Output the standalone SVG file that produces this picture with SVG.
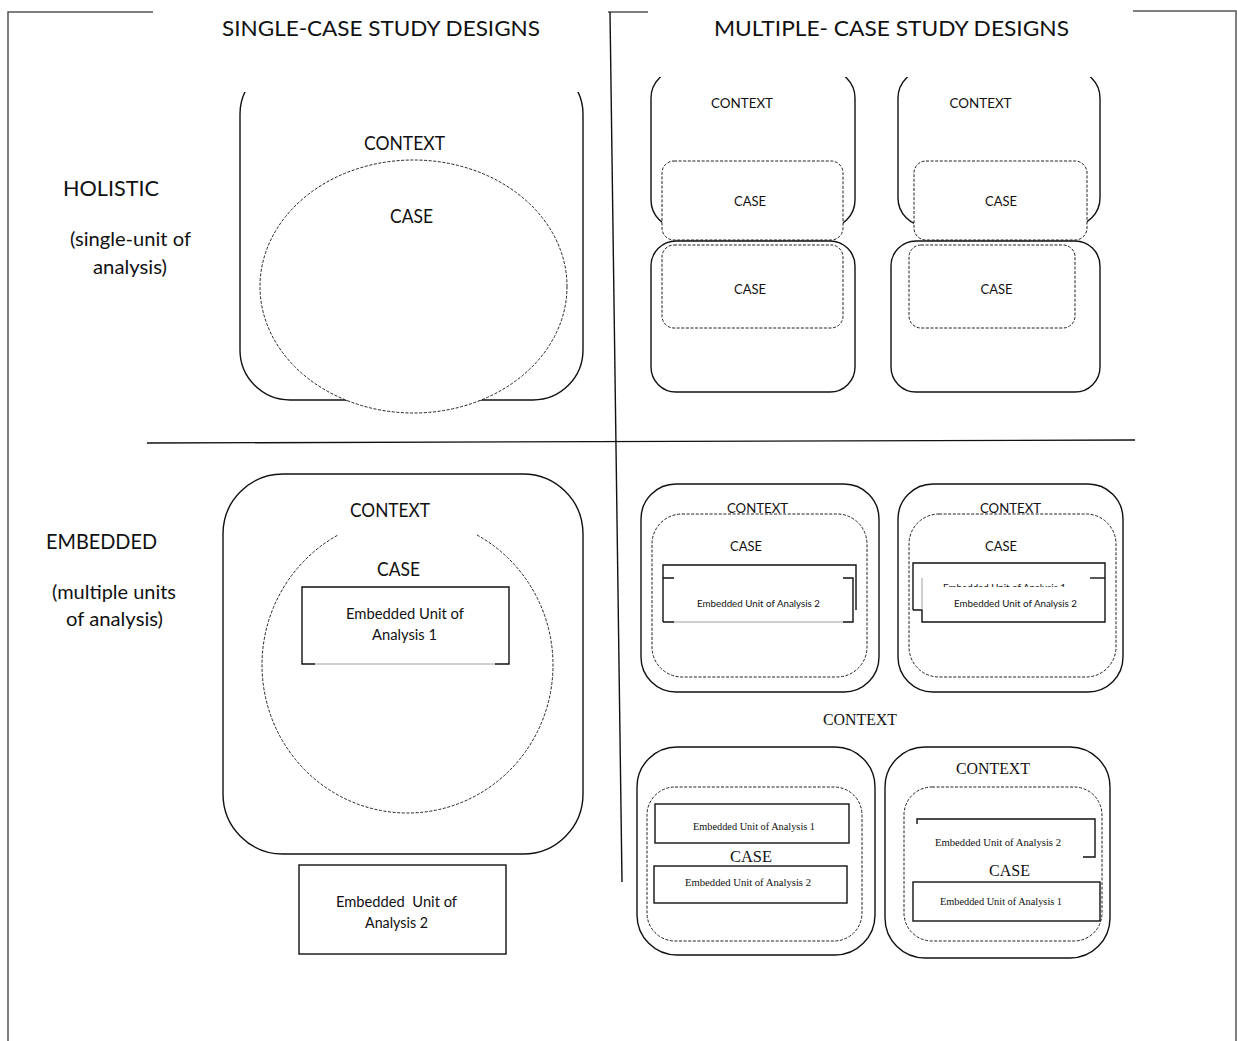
<svg xmlns="http://www.w3.org/2000/svg" width="1237" height="1041" viewBox="0 0 1237 1041">
<defs>
<style>
.frame{fill:none;stroke:#555;stroke-width:1.5}
.ln{fill:none;stroke:#111;stroke-width:1.4}
.box{fill:#fff;stroke:#111;stroke-width:1.4}
.dsh{fill:#fff;stroke:#222;stroke-width:1;stroke-dasharray:3 1.6}
.dshn{fill:none;stroke:#222;stroke-width:1;stroke-dasharray:3 1.6}
.thin{fill:none;stroke:#888;stroke-width:0.8}
text{fill:#111}
.c{font-family:Lato,"Open Sans","Liberation Sans",sans-serif;text-anchor:middle}
.s{font-family:"Liberation Serif","DejaVu Serif",serif;text-anchor:middle}
</style>
<clipPath id="clipTL"><rect x="0" y="92" width="1237" height="949"/></clipPath>
<clipPath id="clipTR"><rect x="0" y="77" width="1237" height="964"/></clipPath>
<clipPath id="clipHidden"><rect x="900" y="570" width="200" height="17"/></clipPath>
</defs>
<rect width="1237" height="1041" fill="#fff"/>

<g id="frame">
<path class="frame" d="M153,12 H8 V1041"/>
<path class="frame" d="M1133,11 H1236 V1041"/>
<path class="frame" d="M608,12 H648"/>
</g>

<g id="dividers">
<line class="ln" x1="610" y1="12" x2="622" y2="882"/>
<line class="ln" x1="147" y1="443" x2="1135" y2="440"/>
</g>

<g id="headers">
<text class="c" x="381" y="36" font-size="22" textLength="318" lengthAdjust="spacingAndGlyphs">SINGLE-CASE STUDY DESIGNS</text>
<text class="c" x="891.5" y="36" font-size="22" textLength="355" lengthAdjust="spacingAndGlyphs">MULTIPLE- CASE STUDY DESIGNS</text>
</g>

<g id="row-labels">
<text class="c" x="111" y="196" font-size="21" textLength="96" lengthAdjust="spacingAndGlyphs">HOLISTIC</text>
<text class="c" x="130.5" y="246" font-size="19" textLength="121" lengthAdjust="spacingAndGlyphs">(single-unit of</text>
<text class="c" x="130" y="274" font-size="19" textLength="74" lengthAdjust="spacingAndGlyphs">analysis)</text>
<text class="c" x="101.5" y="549" font-size="21" textLength="111" lengthAdjust="spacingAndGlyphs">EMBEDDED</text>
<text class="c" x="114" y="599" font-size="19" textLength="124" lengthAdjust="spacingAndGlyphs">(multiple units</text>
<text class="c" x="114.5" y="626" font-size="19" textLength="97" lengthAdjust="spacingAndGlyphs">of analysis)</text>
</g>

<g id="single-holistic">
<rect class="box" x="240" y="64" width="343" height="336" rx="50" clip-path="url(#clipTL)"/>
<ellipse class="dsh" cx="413.5" cy="286.5" rx="153.5" ry="126.5"/>
<text class="c" x="404.5" y="150" font-size="19.5" textLength="81" lengthAdjust="spacingAndGlyphs">CONTEXT</text>
<text class="c" x="411.5" y="223" font-size="19.5" textLength="43" lengthAdjust="spacingAndGlyphs">CASE</text>
</g>

<g id="multi-holistic-left">
<rect class="box" x="651" y="70" width="204" height="158" rx="28" clip-path="url(#clipTR)"/>
<rect class="dsh" x="662" y="161" width="181" height="79" rx="12"/>
<rect class="box" x="651" y="241" width="204" height="151" rx="25"/>
<rect class="dsh" x="662" y="245" width="181" height="83" rx="12"/>
<text class="c" x="742" y="108" font-size="14" textLength="62" lengthAdjust="spacingAndGlyphs">CONTEXT</text>
<text class="c" x="750" y="206" font-size="14" textLength="32" lengthAdjust="spacingAndGlyphs">CASE</text>
<text class="c" x="750" y="294" font-size="14" textLength="32" lengthAdjust="spacingAndGlyphs">CASE</text>
</g>

<g id="multi-holistic-right">
<rect class="box" x="898" y="70" width="202" height="156" rx="28" clip-path="url(#clipTR)"/>
<rect class="dsh" x="914" y="161" width="173" height="79" rx="12"/>
<rect class="box" x="891" y="241" width="209" height="151" rx="25"/>
<rect class="dsh" x="909" y="245" width="166" height="83" rx="12"/>
<text class="c" x="980.5" y="108" font-size="14" textLength="62" lengthAdjust="spacingAndGlyphs">CONTEXT</text>
<text class="c" x="1001" y="206" font-size="14" textLength="32" lengthAdjust="spacingAndGlyphs">CASE</text>
<text class="c" x="996.5" y="294" font-size="14" textLength="32" lengthAdjust="spacingAndGlyphs">CASE</text>
</g>

<g id="single-embedded">
<rect class="box" x="223" y="474" width="360" height="380" rx="60"/>
<path class="dshn" d="M477,535 A145.5,148 0 1 1 338,535"/>
<text class="c" x="390" y="517" font-size="19.5" textLength="80" lengthAdjust="spacingAndGlyphs">CONTEXT</text>
<text class="c" x="398.5" y="576" font-size="19.5" textLength="43" lengthAdjust="spacingAndGlyphs">CASE</text>
<rect x="302" y="587" width="207" height="77" fill="#fff"/>
<path class="ln" d="M315,664 H302 V587 H509 V664 H495"/>
<path class="thin" d="M315,664 H495"/>
<text class="c" x="405" y="619" font-size="14.5" textLength="118" lengthAdjust="spacingAndGlyphs">Embedded Unit of</text>
<text class="c" x="404.5" y="640" font-size="14.5" textLength="65" lengthAdjust="spacingAndGlyphs">Analysis 1</text>
</g>

<g id="single-embedded-unit2">
<rect class="box" x="299" y="865" width="207" height="89"/>
<text class="c" x="396.5" y="907" font-size="14.5" textLength="121" lengthAdjust="spacingAndGlyphs" xml:space="preserve">Embedded  Unit of</text>
<text class="c" x="396.5" y="928" font-size="14.5" textLength="63" lengthAdjust="spacingAndGlyphs">Analysis 2</text>
</g>

<g id="multi-embedded-top-left">
<rect class="box" x="641" y="484" width="238" height="208" rx="35"/>
<rect class="dsh" x="652" y="514" width="215" height="163" rx="30"/>
<text class="c" x="757.5" y="513" font-size="14" textLength="61" lengthAdjust="spacingAndGlyphs">CONTEXT</text>
<text class="c" x="746" y="551" font-size="14" textLength="32" lengthAdjust="spacingAndGlyphs">CASE</text>
<path class="ln" d="M663,622 V565 H856 V610"/>
<path class="ln" d="M663,578 H674 M843,578 H853 V622 H843 M663,622 H674"/>
<path class="thin" d="M674,622 H843"/>
<text class="c" x="758.5" y="607" font-size="10" textLength="123" lengthAdjust="spacingAndGlyphs">Embedded Unit of Analysis 2</text>
</g>

<g id="multi-embedded-top-right">
<rect class="box" x="898" y="484" width="225" height="208" rx="35"/>
<rect class="dsh" x="909" y="514" width="207" height="163" rx="30"/>
<text class="c" x="1010.5" y="513" font-size="14" textLength="61" lengthAdjust="spacingAndGlyphs">CONTEXT</text>
<text class="c" x="1001" y="551" font-size="14" textLength="32" lengthAdjust="spacingAndGlyphs">CASE</text>
<path class="ln" d="M913,610 V563 H1105 V622 H922 V610 H913"/>
<path class="thin" d="M922,610 V578"/>
<path class="ln" d="M1090,578 H1105"/>
<text class="c" x="1004.5" y="590.5" font-size="10" textLength="123" lengthAdjust="spacingAndGlyphs" clip-path="url(#clipHidden)">Embedded Unit of Analysis 1</text>
<text class="c" x="1015.5" y="607" font-size="10" textLength="123" lengthAdjust="spacingAndGlyphs">Embedded Unit of Analysis 2</text>
</g>

<text class="s" x="860" y="725" font-size="16" textLength="74" lengthAdjust="spacingAndGlyphs">CONTEXT</text>

<g id="multi-embedded-bottom-left">
<rect class="box" x="637" y="747" width="238" height="208" rx="40"/>
<rect class="dsh" x="647" y="787" width="215" height="154" rx="28"/>
<rect class="box" x="655" y="804" width="194" height="39"/>
<text class="s" x="754" y="830" font-size="10" textLength="122" lengthAdjust="spacingAndGlyphs">Embedded Unit of Analysis 1</text>
<text class="s" x="751" y="862" font-size="16" textLength="42" lengthAdjust="spacingAndGlyphs">CASE</text>
<rect class="box" x="654" y="866" width="193" height="37"/>
<text class="s" x="748" y="886" font-size="10" textLength="126" lengthAdjust="spacingAndGlyphs">Embedded Unit of Analysis 2</text>
</g>

<g id="multi-embedded-bottom-right">
<rect class="box" x="885" y="747" width="225" height="211" rx="40"/>
<rect class="dsh" x="904" y="787" width="198" height="154" rx="28"/>
<text class="s" x="993" y="774" font-size="16" textLength="74" lengthAdjust="spacingAndGlyphs">CONTEXT</text>
<path class="ln" d="M917,824 V819 H1095 V857 H1083"/>
<text class="s" x="998" y="846" font-size="10" textLength="126" lengthAdjust="spacingAndGlyphs">Embedded Unit of Analysis 2</text>
<text class="s" x="1009.5" y="876" font-size="16" textLength="41" lengthAdjust="spacingAndGlyphs">CASE</text>
<rect class="box" x="913" y="882" width="187" height="39"/>
<text class="s" x="1001" y="905" font-size="10" textLength="122" lengthAdjust="spacingAndGlyphs">Embedded Unit of Analysis 1</text>
</g>
</svg>
